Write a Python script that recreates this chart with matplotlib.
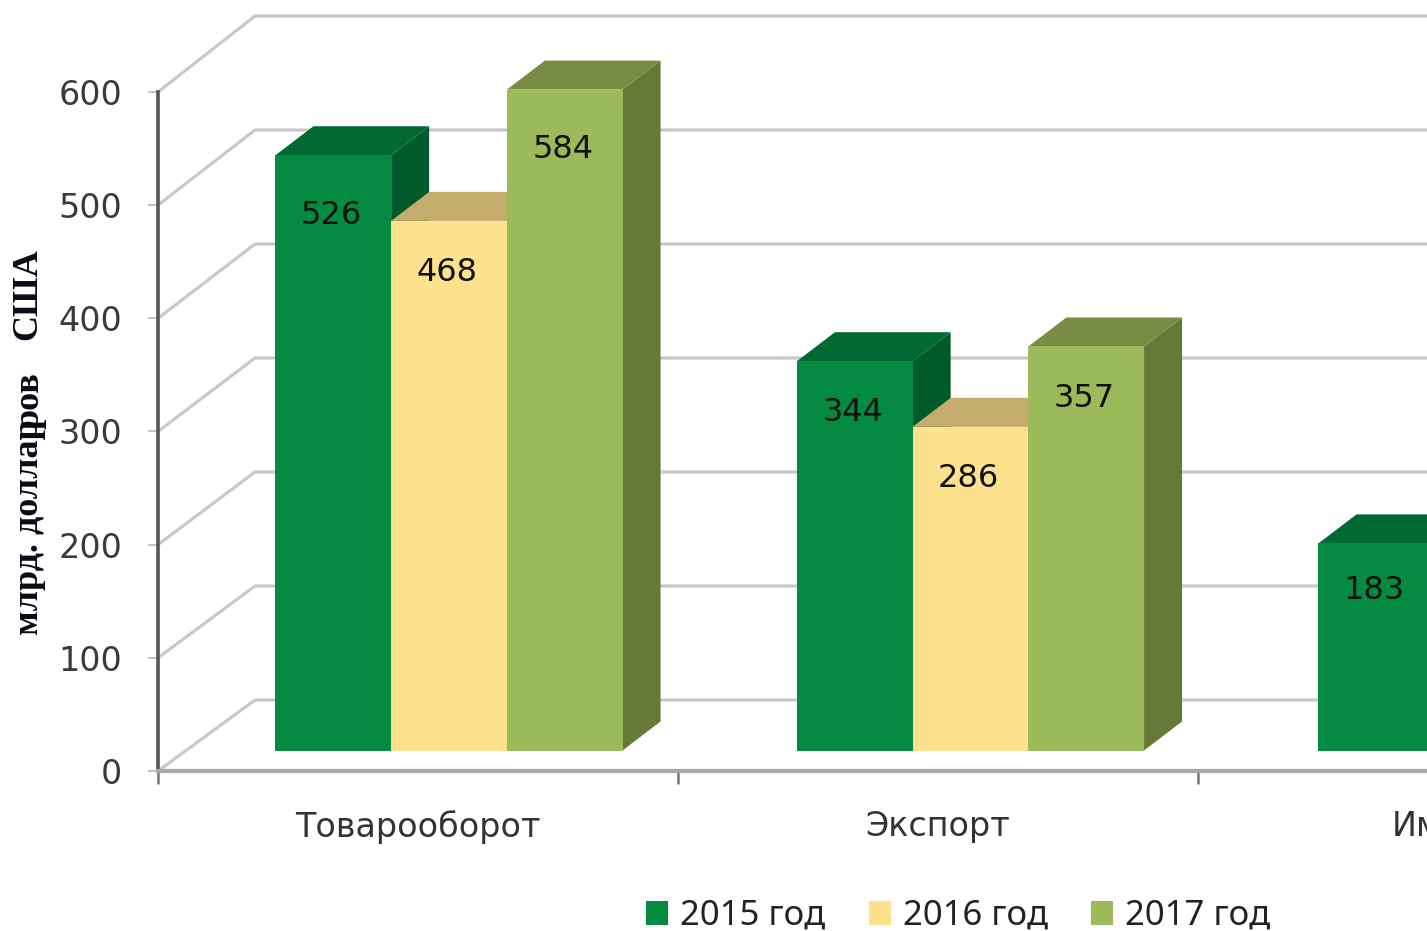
import matplotlib
matplotlib.use('Agg')
import matplotlib.pyplot as plt
from matplotlib.patches import Polygon

categories = ['Товарооборот', 'Экспорт', 'Импорт']
years = ['2015 год', '2016 год', '2017 год']
values_2015 = [526, 344, 183]
values_2016 = [468, 286, 182]
values_2017 = [584, 357, 227]
y_ticks = [0, 100, 200, 300, 400, 500, 600]

W, H = 1427, 931
PX_X = 520.0      # pixels per category
PX_Y = 679 / 600  # pixels per unit of value

front = ['#048b41', '#fde28e', '#9cba5a']
top = ['#006a32', '#c4ac6c', '#788c44']
side = ['#005a2a', '#c4ac6c', '#667a38']
# how far the value label sits under the top of its bar, pixels
label_drop = [[60, 52, 60], [51, 52, 52], [47, 52, 52]]

fig = plt.figure(figsize=(W / 100, H / 100), dpi=100, facecolor='white')
# the axes runs past the right edge, the source picture is cut off there
ax = fig.add_axes([158 / W, (H - 771) / H, 3 * PX_X / W, 679 / H])
ax.set_xlim(0, 3)
ax.set_ylim(0, 600)
ax.set_facecolor('none')

# walls of the 3d box, the back wall is a little taller than the axis
wall_dx = 97 / PX_X
for v in y_ticks:
    wall_dy = (71 + 5 * v / 600) / PX_Y
    ax.plot([0, wall_dx, 3], [v, v + wall_dy, v + wall_dy], color='#c9c9c9', lw=2.3,
            clip_on=False, zorder=1, solid_joinstyle='miter')

# bars, front face with depth faces behind it
bar_w = 115.7 / PX_X
depth_x = 38 / PX_X
depth_y = 29 / PX_Y
base = 20.5 / PX_Y
group_shift = 31 / PX_X
group_step = 521.5 / PX_X
series = [values_2015, values_2016, values_2017]
z = 3
for c in range(len(categories)):
    for s in range(3):
        val = series[s][c]
        x0 = c * group_step + 0.5 + group_shift + (s - 1.5) * bar_w
        x1 = x0 + bar_w
        y1 = base + val
        ax.add_patch(Polygon([(x1, base), (x1 + depth_x, base + depth_y),
                              (x1 + depth_x, y1 + depth_y), (x1, y1)],
                             facecolor=side[s], edgecolor='none', clip_on=False, zorder=z))
        ax.add_patch(Polygon([(x0, y1), (x0 + depth_x, y1 + depth_y),
                              (x1 + depth_x, y1 + depth_y), (x1, y1)],
                             facecolor=top[s], edgecolor='none', clip_on=False, zorder=z))
        ax.bar(x0, val, width=bar_w, bottom=base, align='edge', color=front[s],
               clip_on=False, zorder=z, label=years[s] if c == 0 else None)
        ax.text(x0 + bar_w / 2 - 2 / PX_X, y1 - label_drop[c][s] / PX_Y, str(val), ha='center',
                va='center', fontsize=23, color='#111111', zorder=z + 1)
        z += 2

# axis lines and ticks
for name in ['top', 'right']:
    ax.spines[name].set_visible(False)
ax.spines['left'].set_color('#555555')
ax.spines['left'].set_linewidth(2.6)
ax.spines['bottom'].set_color('#a8a8a8')
ax.spines['bottom'].set_linewidth(3)
ax.set_yticks(y_ticks)
ax.tick_params(axis='y', length=7, width=1.5, color='#c4c4c4', labelsize=24,
               labelcolor='#3a3a3a', pad=19)
ax.set_xticks([0, 1, 2, 3])
ax.set_xticklabels([])
ax.tick_params(axis='x', which='major', length=9, width=1.8, color='#777777')
ax.set_xticks([0.5, 1.5, 2.5], categories, minor=True)
ax.tick_params(axis='x', which='minor', length=0, labelsize=24, labelcolor='#333333', pad=28)

# y title, the overlap of the letters is in the source
serif = dict(family='Liberation Serif', fontweight='bold', fontsize=26, color='#0a0a18',
             rotation=90, ha='center')
fig.text(30 / W, (H - 635) / H, 'млрд. доллар', va='bottom', **serif)
fig.text(30 / W, (H - 372) / H, 'ров', va='top', **serif)
fig.text(28 / W, (H - 248) / H, 'США', va='top', **serif)

fig.legend(loc='center left', bbox_to_anchor=(646 / W, (H - 916) / H), ncol=3, frameon=False,
           prop={'family': 'Noto Sans', 'size': 25}, labelcolor='#222222', borderpad=0,
           borderaxespad=0, handlelength=0.63, handleheight=0.66, handletextpad=0.35,
           columnspacing=1.25)

fig.savefig('out.png', dpi=100)
